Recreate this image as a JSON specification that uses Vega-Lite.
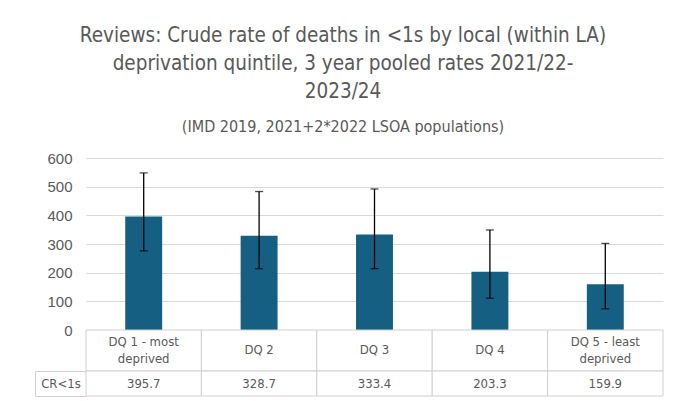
{
  "$schema": "https://vega.github.io/schema/vega-lite/v6.json",
  "padding": {"left": 34, "top": 25, "right": 11, "bottom": 5},
  "background": "white",
  "bounds": "flush",
  "title": {
    "text": ["Reviews: Crude rate of deaths in <1s by local (within LA)", "deprivation quintile, 3 year pooled rates 2021/22-", "2023/24"],
    "subtitle": "(IMD 2019, 2021+2*2022 LSOA populations)",
    "anchor": "middle",
    "dx": -6,
    "font": "Liberation Sans Narrow, DejaVu Sans Condensed, sans-serif",
    "fontSize": 20.5,
    "fontWeight": "normal",
    "color": "#595959",
    "lineHeight": 28,
    "subtitleFont": "Liberation Sans Narrow, DejaVu Sans Condensed, sans-serif",
    "subtitleFontSize": 16,
    "subtitleColor": "#595959",
    "subtitlePadding": 17,
    "offset": 16
  },
  "config": {
    "axisY": {
      "labelOverlap": false,
      "labelFont": "Liberation Sans, Arial, sans-serif", "labelFontSize": 15, "labelColor": "#595959"
    }
  },
  "data": {
    "values": [
      {"cat": "DQ 1 - most deprived", "label": ["DQ 1 - most", "deprived"], "rate": 395.7, "lo": 276, "hi": 548},
      {"cat": "DQ 2", "label": "DQ 2", "rate": 328.7, "lo": 214, "hi": 483},
      {"cat": "DQ 3", "label": "DQ 3", "rate": 333.4, "lo": 214, "hi": 492},
      {"cat": "DQ 4", "label": "DQ 4", "rate": 203.3, "lo": 111, "hi": 349},
      {"cat": "DQ 5 - least deprived", "label": ["DQ 5 - least", "deprived"], "rate": 159.9, "lo": 74, "hi": 302}
    ]
  },
  "spacing": 0,
  "vconcat": [
    {
      "width": 577,
      "height": 172,
      "view": {"stroke": null},
      "layer": [
        {
          "mark": {"type": "bar", "color": "#156082", "width": {"band": 0.32}},
          "encoding": {
            "x": {"field": "cat", "type": "nominal", "sort": null, "axis": null, "scale": {"paddingInner": 0, "paddingOuter": 0}},
            "y": {
              "field": "rate", "type": "quantitative",
              "scale": {"domain": [0, 600], "nice": false},
              "axis": {"title": null, "values": [0, 100, 200, 300, 400, 500, 600], "domain": false, "ticks": false, "labelPadding": 14, "grid": true, "gridColor": "#d9d9d9"}
            }
          }
        },
        {
          "mark": {"type": "rule", "color": "black", "strokeWidth": 1.3},
          "encoding": {
            "x": {"field": "cat", "type": "nominal", "sort": null, "axis": null},
            "y": {"field": "lo", "type": "quantitative", "axis": {"title": null, "values": [0, 100, 200, 300, 400, 500, 600], "domain": false, "ticks": false, "labelPadding": 14, "grid": true, "gridColor": "#d9d9d9"}},
            "y2": {"field": "hi"}
          }
        },
        {
          "mark": {"type": "tick", "color": "black", "thickness": 1.3, "size": 8, "orient": "horizontal"},
          "encoding": {
            "x": {"field": "cat", "type": "nominal", "sort": null, "axis": null},
            "y": {"field": "lo", "type": "quantitative", "axis": {"title": null, "values": [0, 100, 200, 300, 400, 500, 600], "domain": false, "ticks": false, "labelPadding": 14, "grid": true, "gridColor": "#d9d9d9"}}
          }
        },
        {
          "mark": {"type": "tick", "color": "black", "thickness": 1.3, "size": 8, "orient": "horizontal"},
          "encoding": {
            "x": {"field": "cat", "type": "nominal", "sort": null, "axis": null},
            "y": {"field": "hi", "type": "quantitative", "axis": {"title": null, "values": [0, 100, 200, 300, 400, 500, 600], "domain": false, "ticks": false, "labelPadding": 14, "grid": true, "gridColor": "#d9d9d9"}}
          }
        }
      ]
    },
    {
      "width": 577,
      "height": 41,
      "view": {"stroke": null},
      "layer": [
        {
          "mark": {"type": "rect", "fill": "white", "stroke": "#d0d0d0", "strokeWidth": 1},
          "encoding": {
            "x": {"field": "cat", "type": "nominal", "sort": null, "axis": null, "scale": {"paddingInner": 0, "paddingOuter": 0}}
          }
        },
        {
          "mark": {"type": "text", "lineHeight": 17, "font": "Liberation Sans Narrow, DejaVu Sans Condensed, sans-serif", "fontSize": 13, "color": "#595959", "baseline": "middle", "dy": {"expr": "isArray(datum.label) ? -9 : -1"}},
          "encoding": {
            "x": {"field": "cat", "type": "nominal", "sort": null, "axis": null},
            "text": {"field": "label"}
          }
        }
      ]
    },
    {
      "width": 577,
      "height": 25,
      "view": {"stroke": null},
      "layer": [
        {
          "mark": {"type": "rect", "fill": "white", "stroke": "#d0d0d0", "strokeWidth": 1},
          "encoding": {
            "x": {"field": "cat", "type": "nominal", "sort": null, "axis": null, "scale": {"paddingInner": 0, "paddingOuter": 0}},
            "y": {
              "datum": "CR<1s", "type": "nominal",
              "scale": {"paddingInner": 0, "paddingOuter": 0},
              "axis": {
                "title": null, "orient": "left", "offset": 51,
                "domain": true, "domainColor": "#d0d0d0",
                "ticks": true, "tickBand": "extent", "tickSize": -51, "tickColor": "#d0d0d0",
                "labelAlign": "center", "labelBaseline": "middle", "labelPadding": 25.5,
                "labelFont": "Liberation Sans Narrow, DejaVu Sans Condensed, sans-serif", "labelFontSize": 13, "labelColor": "#595959"
              }
            }
          }
        },
        {
          "mark": {"type": "text", "font": "Liberation Sans Narrow, DejaVu Sans Condensed, sans-serif", "fontSize": 13, "color": "#595959", "baseline": "middle"},
          "encoding": {
            "x": {"field": "cat", "type": "nominal", "sort": null, "axis": null},
            "y": {"datum": "CR<1s", "type": "nominal"},
            "text": {"field": "rate", "type": "quantitative", "format": ".1f"}
          }
        }
      ]
    }
  ]
}
